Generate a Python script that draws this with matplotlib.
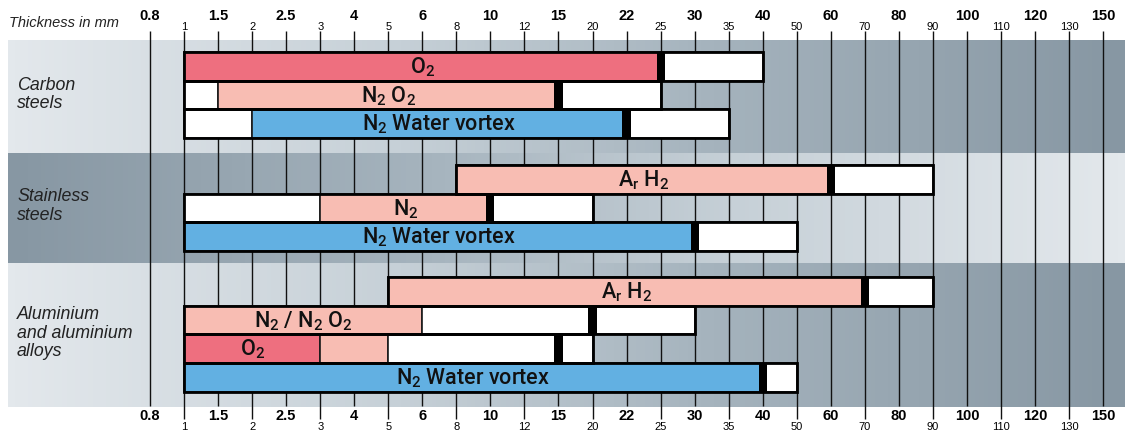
"""Cutting-gas / thickness range chart, redrawn with matplotlib."""
import numpy as np
import matplotlib
matplotlib.use("Agg")
import matplotlib.pyplot as plt
from matplotlib.colors import LinearSegmentedColormap
from matplotlib.patches import Rectangle

# ---- data -------------------------------------------------------------
ticks = [0.8, 1, 1.5, 2, 2.5, 3, 4, 5, 6, 8, 10, 12, 15, 20, 22, 25, 30, 35,
         40, 50, 60, 70, 80, 90, 100, 110, 120, 130, 150]
materials = ["Carbon\nsteels", "Stainless\nsteels", "Aluminium\nand aluminium\nalloys"]

row_material = [0, 0, 0, 1, 1, 1, 2, 2, 2, 2]
row_breaks = [[1, 25, 40], [1, 1.5, 15, 25], [1, 2, 22, 35],
              [8, 60, 90], [1, 3, 10, 20], [1, 30, 50],
              [5, 70, 90], [1, 6, 20, 30], [1, 3, 5, 15, 20], [1, 40, 50]]
row_fills = [["red", "white"], ["white", "pink", "white"], ["white", "blue", "white"],
             ["pink", "white"], ["white", "pink", "white"], ["blue", "white"],
             ["pink", "white"], ["pink", "white", "white"],
             ["red", "pink", "white", "white"], ["blue", "white"]]
row_marks = [25, 15, 22, 60, 10, 30, 70, 20, 15, 40]
row_labels = ["O$_2$", "N$_2$ O$_2$", "N$_2$ Water vortex",
              "A$_\\mathrm{r}$ H$_2$", "N$_2$", "N$_2$ Water vortex",
              "A$_\\mathrm{r}$ H$_2$", "N$_2$ / N$_2$ O$_2$", "O$_2$", "N$_2$ Water vortex"]
row_label_seg = [0, 1, 1, 0, 1, 0, 0, 0, 0, 0]

# ---- style / layout ---------------------------------------------------
FILL = {"red": "#EE6F7F", "pink": "#F8BDB3", "blue": "#62B0E2", "white": "#FFFFFF"}
W, H, DPI = 1125, 430, 100
X0, STEP = 150, 34.04            # px of first tick, px per tick step
band_edges = [40, 153, 263, 407]
band_pad = [12, 12, 14]
PITCH = 28.7
MARK_W = 0.24

plt.rcParams["mathtext.fontset"] = "custom"
plt.rcParams["mathtext.rm"] = "Roboto:medium"
plt.rcParams["mathtext.it"] = "Roboto:medium"

fig = plt.figure(figsize=(W / DPI, H / DPI), dpi=DPI)
ax = fig.add_axes([0, 0, 1, 1])
ax.set_axis_off()


def px(x):
    return (x - X0) / STEP


pos = {v: i for i, v in enumerate(ticks)}

# background bands with horizontal gradient
cmap = LinearSegmentedColormap.from_list(
    "band", [(0, "#E3E8EC"), (0.35, "#C6D0D7"), (0.62, "#A6B4BE"), (1, "#8797A3")])
grad = np.linspace(0, 1, 256)[None, :]
for k in range(3):
    cm = cmap if k != 1 else cmap.reversed()
    ax.imshow(grad, extent=(px(8), px(W), band_edges[k + 1], band_edges[k]),
              cmap=cm, aspect="auto", interpolation="bilinear", zorder=0)

# grid lines and tick labels (top and bottom)
for i, v in enumerate(ticks):
    major = i % 2 == 0
    ax.vlines(i, 31, 406 if major else 419, color="#111111", lw=1.0, zorder=1)
    lab = f"{v:g}"
    if major:
        kw = dict(fontsize=10.5, fontweight="bold", family="Liberation Sans")
        ax.text(i, 19.5, lab, ha="center", va="baseline", **kw)
        ax.text(i, 420.5, lab, ha="center", va="baseline", **kw)
    else:
        kw = dict(fontsize=8, family="Liberation Sans")
        ax.text(i, 30.5, lab, ha="center", va="baseline", **kw)
        ax.text(i, 429.5, lab, ha="center", va="baseline", **kw)

ax.text(px(9), 27, "Thickness in mm", fontsize=10.5, style="italic",
        family="Liberation Sans", color="#222222", va="baseline", ha="left")

for k, name in enumerate(materials):
    yc = (band_edges[k] + band_edges[k + 1]) / 2 - 2
    ax.text(px(17), yc, name, fontsize=12.8, style="italic", family="Liberation Sans",
            color="#222222", va="center", ha="left", linespacing=1.1)

# bars
row_in_band = [0, 0, 0]
for r, m in enumerate(row_material):
    top = band_edges[m] + band_pad[m] + PITCH * row_in_band[m]
    row_in_band[m] += 1
    xs = [pos[b] for b in row_breaks[r]]
    for a, b, f in zip(xs[:-1], xs[1:], row_fills[r]):
        ax.add_patch(Rectangle((a, top), b - a, PITCH, facecolor=FILL[f],
                               edgecolor="#1a1a1a", lw=1.2, zorder=2))
    mk = pos[row_marks[r]]
    ax.add_patch(Rectangle((mk - MARK_W / 2, top), MARK_W, PITCH, facecolor="black",
                           edgecolor="none", zorder=3))
    ax.add_patch(Rectangle((xs[0], top), xs[-1] - xs[0], PITCH, facecolor="none",
                           edgecolor="black", lw=2.0, zorder=4))
    s = row_label_seg[r]
    xc = (xs[s] + xs[s + 1]) / 2
    ax.text(xc, top + PITCH / 2 + 7, row_labels[r], ha="center", va="baseline",
            fontsize=15.5, family="Roboto", fontweight="medium", color="#111111",
            zorder=5)

ax.set_xlim(px(0), px(W))
ax.set_ylim(H, 0)
fig.savefig("out.png", dpi=DPI)
